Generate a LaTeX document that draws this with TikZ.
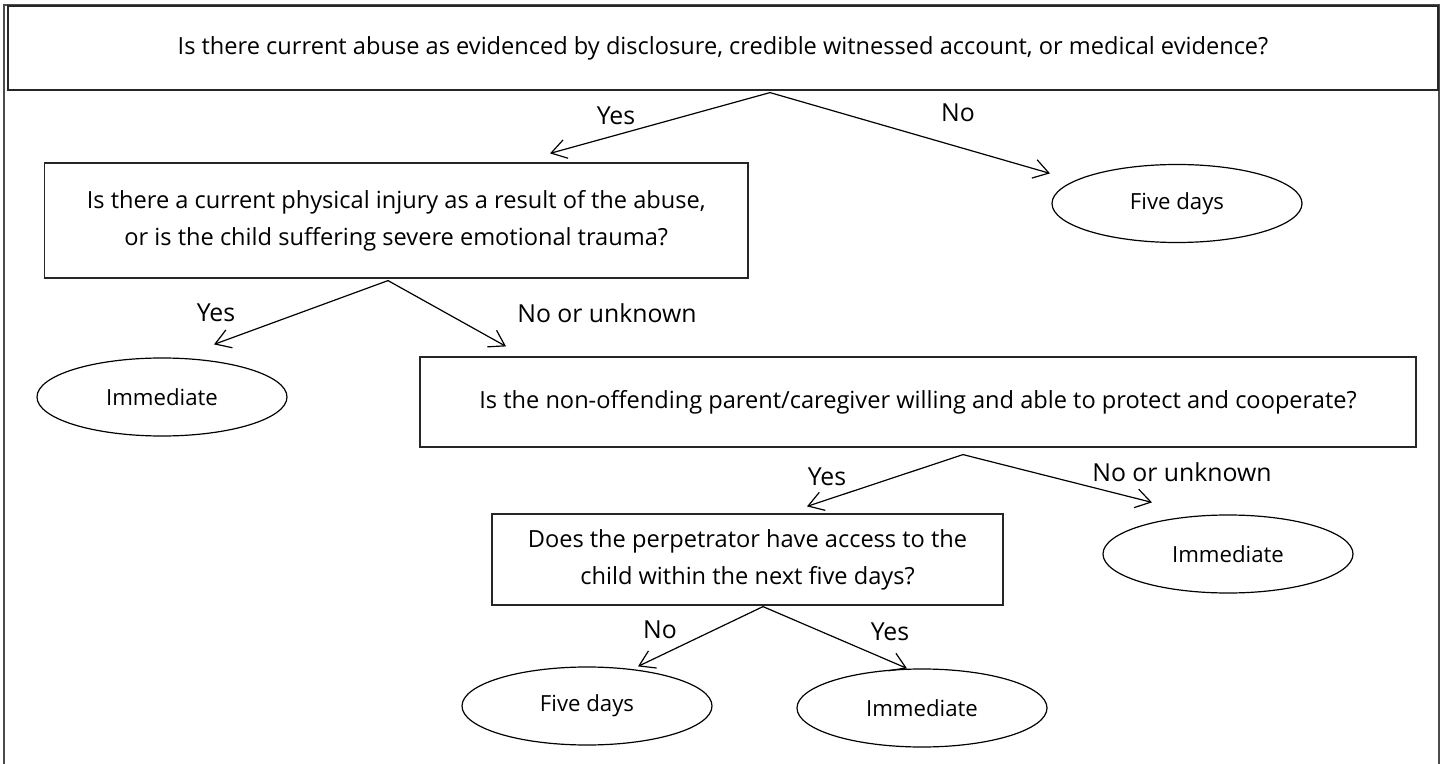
\documentclass[tikz,border=0pt]{standalone}
\usepackage{fontspec}
\setmainfont{Open Sans}
\usetikzlibrary{arrows.meta,shapes.geometric,calc}

\begin{document}
\begin{tikzpicture}[x=0.5pt,y=-0.5pt,
  question/.style={draw=black!85, line width=0.6pt, align=center, inner sep=0pt,
    font=\fontsize{11.8}{18.5}\selectfont},
  outcome/.style={draw=black, line width=0.6pt, ellipse, minimum width=125pt,
    minimum height=39pt, inner sep=0pt, font=\fontsize{11.1}{13}\selectfont},
  answer/.style={inner sep=0pt, font=\fontsize{12.4}{14}\selectfont},
  arr/.style={line width=0.6pt, -{Straight Barb[length=7.5pt,width=9.5pt]}},
  frame/.style={draw=black!70, line width=1pt}]
\useasboundingbox (0,0) rectangle (1445,764);

% open outer frame
\draw[frame] (4,764) -- (4,5) -- (1439,5) -- (1439,764);

% questions
\node[question, minimum width=715pt, minimum height=42pt] (q1) at (723,48)
  {Is there current abuse as evidenced by disclosure, credible witnessed account, or medical evidence?};
\node[question, minimum width=351.75pt, minimum height=57.5pt] (q2) at (396.25,220.5)
  {Is there a current physical injury as a result of the abuse,\\or is the child suffering severe emotional trauma?};
\node[question, minimum width=498pt, minimum height=45pt] (q3) at (918,402)
  {Is the non-offending parent/caregiver willing and able to protect and cooperate?};
\node[question, minimum width=255.5pt, minimum height=45.5pt] (q4) at (747.5,559.5)
  {Does the perpetrator have access to the\\child within the next five days?};

% outcomes
\node[outcome] (e1) at (1177,203.5) {Five days};
\node[outcome] (e2) at (162,397) {Immediate};
\node[outcome] (e3) at (1228,554) {Immediate};
\node[outcome] (e4) at (587,706) {Five days};
\node[outcome] (e5) at (922,708) {Immediate};

% connector ends
\coordinate (q1o) at ($(q1.south)+(47,2)$);
\coordinate (q2i) at ($(q2.north)+(153.75,-9)$);
\coordinate (e1i) at ($(e1.north)+(-127,9.5)$);
\coordinate (q2o) at ($(q2.south)+(-8.25,2)$);
\coordinate (e2i) at ($(e2.north)+(52,-13)$);
\coordinate (q3i) at ($(q3.north)+(-412,-10)$);
\coordinate (q3o) at ($(q3.south)+(45,7)$);
\coordinate (q4i) at ($(q4.north)+(59.5,-7)$);
\coordinate (e3i) at ($(e3.north)+(-76,-12)$);
\coordinate (q4o) at ($(q4.south)+(15.5,1)$);
\coordinate (e4i) at ($(e4.north)+(51,0)$);
\coordinate (e5i) at ($(e5.north)+(-15,0)$);

% connectors
\draw[arr] (q1o) -- (q2i);
\draw[arr] (q1o) -- (e1i);
\draw[arr] (q2o) -- (e2i);
\draw[arr] (q2o) -- (q3i);
\draw[arr] (q3o) -- (q4i);
\draw[arr] (q3o) -- (e3i);
\draw[arr] (q4o) -- (e4i);
\draw[arr] (q4o) -- (e5i);

% answers
\node[answer] (l1) at (616,116) {Yes};
\node[answer] (l2) at (958,113) {No};
\node[answer] (l3) at (216,313) {Yes};
\node[answer] (l4) at (607,313) {No or unknown};
\node[answer] (l5) at (827,477) {Yes};
\node[answer] (l6) at (1182,472) {No or unknown};
\node[answer] (l7) at (660,630) {No};
\node[answer] (l8) at (890,632) {Yes};
\end{tikzpicture}
\end{document}
